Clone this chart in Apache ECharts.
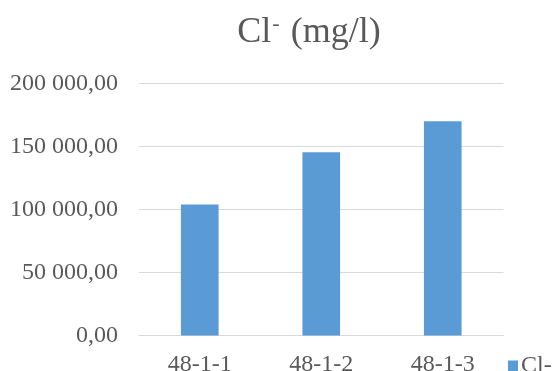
<!DOCTYPE html>
<html>
<head>
<meta charset="utf-8">
<style>
  html, body { margin: 0; padding: 0; background: #ffffff; }
  #chart { width: 552px; height: 371px; }
</style>
<script src="https://cdn.jsdelivr.net/npm/echarts@6/dist/echarts.min.js"></script>
</head>
<body>
<div id="chart"></div>
<script>
// Chloride concentration per sample (mg/l)
const categories = ['48-1-1', '48-1-2', '48-1-3'];
const seriesName = 'Cl-';
const chlorideValues = [104000, 145400, 170000];
const yTicks = [0, 50000, 100000, 150000, 200000];

const FONT = '"Liberation Serif", "Times New Roman", serif';
const TEXT = '#595959';

// "200 000,00" style: space as thousands separator, comma decimals
function fmt(v) {
  const parts = Number(v).toFixed(2).split('.');
  const intPart = parts[0].replace(/\B(?=(\d{3})+(?!\d))/g, ' ');
  return intPart + ',' + parts[1];
}

const chart = echarts.init(document.getElementById('chart'), null, { renderer: 'canvas' });
chart.setOption({
  animation: false,
  backgroundColor: '#ffffff',
  title: {
    text: '{a|Cl}{s|-}{a| (mg/l)}',
    left: 304,
    textAlign: 'center',
    top: 8,
    textStyle: {
      rich: {
        a: { fontFamily: FONT, fontSize: 36, fontWeight: 'normal', color: TEXT, lineHeight: 40 },
        s: { fontFamily: FONT, fontSize: 22, fontWeight: 'normal', color: TEXT, lineHeight: 40, verticalAlign: 'top', padding: [0, 2, 14, 1] }
      }
    }
  },
  legend: {
    data: [seriesName],
    left: 503,
    top: 349,
    itemWidth: 10,
    itemHeight: 11,
    itemGap: 0,
    icon: 'rect',
    textStyle: { fontFamily: FONT, fontSize: 24, color: TEXT, padding: [0, 0, 0, -2] }
  },
  grid: { left: 139, right: 48.5, top: 83.5, bottom: 35.5, containLabel: false, outerBoundsMode: 'none' },
  xAxis: {
    type: 'category',
    data: categories,
    axisLine: { lineStyle: { color: '#D9D9D9', width: 1 } },
    axisTick: { show: false },
    axisLabel: { fontFamily: FONT, fontSize: 24, color: TEXT, margin: 17 }
  },
  yAxis: {
    type: 'value',
    min: yTicks[0],
    max: yTicks[yTicks.length - 1],
    interval: yTicks[1] - yTicks[0],
    axisLine: { show: false },
    axisTick: { show: false },
    splitLine: { lineStyle: { color: '#D9D9D9', width: 1 } },
    axisLabel: { fontFamily: FONT, fontSize: 24, color: TEXT, margin: 21, formatter: fmt }
  },
  series: [{
    name: seriesName,
    type: 'bar',
    data: chlorideValues,
    barWidth: '31%',
    itemStyle: { color: '#5B9BD5' }
  }]
});
</script>
</body>
</html>
